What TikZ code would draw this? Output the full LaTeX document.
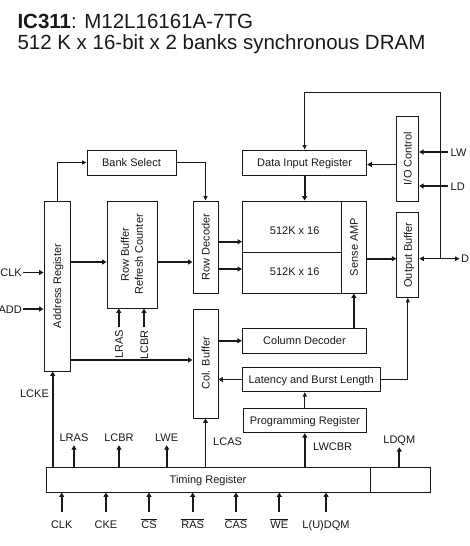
\documentclass[tikz,border=0pt]{standalone}
\usepackage{fontspec}
\setmainfont{Liberation Sans}
\usetikzlibrary{arrows.meta}
\newcommand\lblfont{\fontsize{11}{14}\selectfont}
\newcommand\ttlfont{\fontsize{20.5}{24}\selectfont}
\begin{document}
\begin{tikzpicture}[x=1pt,y=-1pt,
  box/.style={draw=black!90, line width=0.9pt, inner sep=0pt, font=\lblfont, text height=8pt, text depth=0pt, text=black!90},
  lbl/.style={font=\lblfont, inner sep=0pt, text height=8pt, text depth=0pt, text=black!90},
  tl/.style={lbl, anchor=base, text depth=4pt},
  bl/.style={lbl, anchor=base, text height=16.6pt},
  thk/.style={line width=1.8pt, draw=black!90, -{Triangle[length=4.5pt,width=5pt]}},
  thn/.style={line width=0.9pt, draw=black!90, -{Triangle[length=4.5pt,width=4pt]}},
]
\useasboundingbox (0,0) rectangle (470,546);

% title
\node[anchor=base west, inner sep=0pt, font=\ttlfont, text=black!90] (t1) at (17.3,28.3) {\textbf{IC311}: M12L16161A-7TG};
\node[anchor=base west, inner sep=0pt, font=\ttlfont, text=black!90] (t2) at (17.3,49.5) {512 K x 16-bit x 2 banks synchronous DRAM};

% boxes
\node[box, minimum width=89pt, minimum height=25pt] (bank) at (131.5,162.5) {Bank Select};
\node[box, minimum width=26pt, minimum height=170pt, label={[lbl,rotate=90]center:Address Register}] (addr) at (57,286) {};
\node[box, minimum width=50pt, minimum height=107pt, label={[font=\lblfont, inner sep=0pt, rotate=90, align=center, text=black!90]center:Row Buffer\\Refresh Counter}] (rowbuf) at (132,254.5) {};
\node[box, minimum width=25pt, minimum height=92pt, label={[lbl,rotate=90]center:Row Decoder}] (rowdec) at (205.5,247) {};
\node[box, minimum width=25pt, minimum height=109pt, label={[lbl,rotate=90]center:Col. Buffer}] (colbuf) at (205.5,363.5) {};
\node[box, minimum width=124.4pt, minimum height=25pt] (datain) at (304.6,162.5) {Data Input Register};
\node[box, minimum width=98.5pt, minimum height=51pt] (memA) at (291.75,226.5) {};
\node[box, minimum width=98.5pt, minimum height=41pt] (memB) at (291.75,272.5) {};
\draw[line width=1.6pt, black!90] (memA.south west) -- (memA.south east);
\node[lbl] (tA) at (294.7,230.3) {512K x 16};
\node[lbl] (tB) at (294.7,271.7) {512K x 16};
\node[box, minimum width=25.7pt, minimum height=92pt, label={[lbl,rotate=90]center:Sense AMP}] (sense) at (353.85,247) {};
\node[box, minimum width=22pt, minimum height=85pt, label={[lbl,rotate=90]center:I/O Control}] (iocont) at (407.7,158.5) {};
\node[box, minimum width=22pt, minimum height=85pt, label={[lbl,rotate=90]center:Output Buffer}] (outbuf) at (407.8,255) {};
\node[box, minimum width=124.4pt, minimum height=25pt] (coldec) at (304.5,340.8) {Column Decoder};
\node[box, minimum width=137.7pt, minimum height=24.4pt] (latency) at (311.2,379.5) {Latency and Burst Length};
\node[box, minimum width=123.7pt, minimum height=24.4pt] (prog) at (304.8,420.5) {Programming Register};
\node[box, minimum width=324pt, minimum height=25pt] (timing) at (208,479.5) {Timing Register};
\node[box, minimum width=60pt, minimum height=25pt] (timingR) at (400,479.5) {};

% helper rows
\coordinate (yAR) at (0,262);
\coordinate (yM1) at (0,241.7);
\coordinate (yM2) at (0,269);
\coordinate (yAC) at (0,360);
\coordinate (yIO) at (0,164.5);
\coordinate (ySO) at (0,258.7);
\coordinate (xK) at (52.7,0);
\coordinate (jn) at (440.7,258.7);
\coordinate (ftop) at (440.7,92);

% bank select
\draw[thn] (addr.north) |- (bank.west);
\draw[thn] (bank.east) -| (rowdec.north);

% inputs at left
\node[lbl, anchor=east, inner xsep=1pt] (clk) at (23,272.5) {CLK};
\node[lbl, anchor=east, inner xsep=1pt] (add) at (23,309) {ADD};
\draw[thk] (clk.east) -- (clk.east -| addr.west);
\draw[thk] (add.east) -- (add.east -| addr.west);

% data path
\draw[thk] (addr.east |- yAR) -- (rowbuf.west |- yAR);
\draw[thk] (rowbuf.east |- yAR) -- (rowdec.west |- yAR);
\draw[thk] (rowdec.east |- yM1) -- (memA.west |- yM1);
\draw[thk] (rowdec.east |- yM2) -- (memB.west |- yM2);
\draw[thk] (addr.east |- yAC) -- (colbuf.west |- yAC);
\draw[thk] (colbuf.east |- coldec.west) -- (coldec.west);
\draw[thk] (latency.west) -- (latency.west -| colbuf.east);
\draw[thn] (prog.north) -- (prog.north |- latency.south);
\draw[thn] (latency.east) -| (outbuf.south);
\draw[thk] (sense.south |- coldec.north) -- (sense.south);
\draw[thk] (datain.south) -- (datain.south |- memA.north);
\draw[thk] (iocont.west |- yIO) -- (datain.east |- yIO);
\draw[thk] (sense.east |- ySO) -- (outbuf.west |- ySO);

% right side signals (cut by the page edge in the reference)
\node[lbl, anchor=west, inner xsep=2.5pt] (lwe) at (448,152) {LW};
\node[lbl, anchor=west, inner xsep=2.5pt] (ldqm) at (448,186) {LD};
\draw[thk] (lwe.west) -- (lwe.west -| iocont.east);
\draw[thk] (ldqm.west) -- (ldqm.west -| iocont.east);
\node[lbl, anchor=west, inner xsep=1.5pt] (dq) at (459.5,258.7) {D};
\draw[line width=1.2pt, black!90, {Triangle[length=4.5pt,width=4.5pt]}-{Triangle[length=4.5pt,width=4.5pt]}] (outbuf.east |- ySO) -- (dq.west);
\draw[thn] (jn) -- (ftop) -| (datain.north);

% refresh signals
\node[lbl, rotate=90, anchor=east, inner xsep=3pt] (mLRAS) at (118.8,327) {LRAS};
\node[lbl, rotate=90, anchor=east, inner xsep=3pt] (mLCBR) at (144,327) {LCBR};
\draw[thk] (mLRAS.east) -- (mLRAS.east |- rowbuf.south);
\draw[thk] (mLCBR.east) -- (mLCBR.east |- rowbuf.south);

% timing register outputs
\node[lbl, anchor=base] (lckel) at (34.5,397.3) {LCKE};
\draw[thk] (xK |- timing.north) -- (xK |- addr.south);
\node[tl] (oLRAS) at (74,441) {LRAS};
\node[tl] (oLCBR) at (119,441) {LCBR};
\node[tl] (oLWE) at (166.7,441) {LWE};
\node[tl] (oLDQM) at (399.3,443) {LDQM};
\draw[thk] (oLRAS.south |- timing.north) -- (oLRAS.south);
\draw[thk] (oLCBR.south |- timing.north) -- (oLCBR.south);
\draw[thk] (oLWE.south |- timing.north) -- (oLWE.south);
\draw[thk] (oLDQM.south |- timingR.north) -- (oLDQM.south);
\node[lbl, anchor=base west] (oLCAS) at (213,445.7) {LCAS};
\draw[thk] (colbuf.south |- timing.north) -- (colbuf.south);
\node[lbl, anchor=base west] (oLWCBR) at (313,450.7) {LWCBR};
\draw[thk] (prog.south |- timing.north) -- (prog.south);

% timing register inputs
\node[bl] (iCLK) at (61.7,528.3) {CLK};
\node[bl] (iCKE) at (106,528.3) {CKE};
\node[bl] (iCS) at (149,528.3) {$\overline{\hbox{CS}}$};
\node[bl] (iRAS) at (192.7,528.3) {$\overline{\hbox{RAS}}$};
\node[bl] (iCAS) at (236,528.3) {$\overline{\hbox{CAS}}$};
\node[bl] (iWE) at (279.3,528.3) {$\overline{\hbox{WE}}$};
\node[bl] (iDQM) at (326,528.3) {L(U)DQM};
\foreach \n in {iCLK,iCKE,iCS,iRAS,iCAS,iWE,iDQM}
  \draw[thk] (\n.north) -- (\n.north |- timing.south);
\end{tikzpicture}
\end{document}
